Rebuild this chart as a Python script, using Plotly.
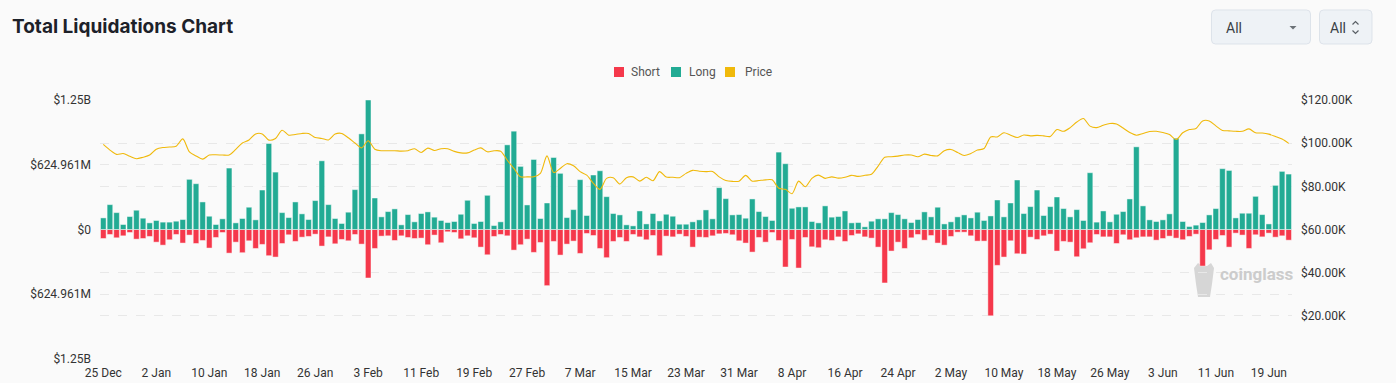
import plotly.graph_objects as go
import pandas as pd

dates = pd.date_range("2024-12-25", "2025-06-22", freq="D")

long_m = [
    112, 240, 163, 48, 125, 186, 109, 64, 87, 71, 71, 80, 96, 484, 442, 266, 128, 48, 103, 593,
    64, 106, 215, 93, 381, 830, 554, 163, 115, 266, 151, 96, 279, 663, 240, 106, 58, 167, 385, 923,
    1249.9, 304, 122, 173, 199, 45, 144, 74, 154, 170, 119, 87, 67, 77, 147, 282, 58, 77, 330, 38,
    74, 817, 949, 609, 237, 676, 106, 256, 695, 542, 115, 192, 481, 135, 526, 567, 317, 154, 141, 45,
    35, 179, 54, 154, 83, 147, 128, 51, 51, 74, 93, 189, 103, 404, 298, 141, 144, 109, 295, 173,
    125, 87, 747, 635, 205, 218, 218, 77, 64, 228, 119, 125, 179, 64, 67, 26, 80, 103, 103, 163,
    144, 103, 67, 96, 170, 122, 215, 54, 74, 122, 141, 112, 167, 87, 131, 285, 122, 256, 478, 154,
    221, 381, 135, 221, 314, 202, 122, 192, 87, 548, 71, 179, 74, 147, 173, 295, 798, 228, 93, 77,
    93, 151, 881, 77, 29, 42, 67, 141, 202, 587, 570, 112, 157, 157, 320, 144, 54, 426, 561, 535,
]

short_m = [
    87, 48, 80, 61, 29, 93, 87, 67, 122, 151, 99, 48, 131, 54, 135, 106, 179, 77, 29, 228,
    122, 224, 109, 183, 144, 253, 266, 135, 51, 115, 74, 67, 45, 160, 71, 138, 96, 109, 48, 141,
    468, 183, 64, 61, 106, 61, 77, 87, 83, 147, 54, 128, 22, 29, 90, 61, 80, 170, 244, 67,
    48, 61, 199, 147, 93, 221, 125, 542, 115, 247, 141, 112, 231, 38, 58, 183, 272, 115, 77, 115,
    48, 71, 99, 58, 253, 64, 71, 45, 67, 170, 74, 77, 61, 42, 38, 51, 109, 131, 218, 77,
    122, 29, 106, 362, 96, 372, 77, 167, 176, 99, 106, 71, 115, 58, 42, 71, 83, 170, 516, 208,
    122, 183, 80, 48, 103, 58, 131, 151, 67, 26, 26, 61, 112, 112, 833, 346, 266, 109, 234, 237,
    74, 96, 61, 45, 208, 115, 122, 263, 186, 128, 48, 71, 71, 135, 51, 99, 80, 71, 71, 103,
    87, 64, 83, 99, 67, 45, 353, 196, 96, 58, 170, 35, 54, 183, 51, 71, 35, 74, 61, 103,
]

price_k = [
    99.4, 96.8, 94.8, 95.2, 93.9, 92.8, 93.5, 94.5, 97.2, 98.0, 98.2, 98.6, 102.0, 96.0, 94.1,
    92.6, 94.5, 94.6, 94.5, 94.5, 97.1, 100.1, 101.5, 104.3, 104.3, 101.4, 102.2, 106.0, 103.7, 104.0,
    104.5, 104.5, 102.6, 102.2, 101.5, 104.2, 104.5, 102.5, 100.1, 97.8, 101.1, 97.2, 96.5, 96.5, 96.5,
    96.3, 96.5, 97.4, 95.7, 97.7, 96.6, 97.4, 97.4, 96.2, 95.5, 95.5, 96.8, 97.8, 96.0, 96.5,
    96.3, 92.1, 88.3, 84.4, 84.4, 84.4, 86.0, 94.1, 86.4, 88.3, 90.5, 89.5, 86.8, 85.2, 81.4,
    78.6, 83.7, 84.0, 81.1, 84.0, 84.4, 82.4, 84.2, 82.6, 86.8, 84.3, 84.2, 84.0, 86.0, 87.4,
    87.0, 86.8, 86.9, 84.4, 82.7, 82.3, 82.4, 85.1, 82.4, 82.7, 83.0, 83.0, 79.1, 78.6, 76.6,
    82.4, 79.8, 83.7, 85.2, 83.7, 84.4, 83.8, 84.2, 85.1, 84.6, 85.1, 85.6, 89.4, 93.5, 93.7,
    94.0, 94.5, 94.5, 93.7, 94.9, 94.3, 94.1, 96.5, 97.1, 95.7, 94.3, 95.2, 96.8, 97.5, 102.9,
    102.9, 104.8, 103.7, 102.6, 103.8, 103.4, 103.6, 103.4, 103.1, 106.3, 105.5, 107.2, 109.8, 111.4, 107.9,
    107.2, 108.3, 109.1, 108.9, 107.0, 104.9, 103.7, 104.5, 105.4, 105.5, 104.9, 104.0, 101.7, 104.8, 106.3,
    106.8, 110.3, 110.3, 108.0, 105.9, 105.7, 105.5, 105.5, 106.6, 104.8, 104.7, 104.2, 103.1, 101.9, 99.9,
]

left_max = 1249.922e6
left_ticks = [-left_max, -left_max / 2, 0, left_max / 2, left_max]
left_ticktext = ["$1.25B", "$624.961M", "$0", "$624.961M", "$1.25B"]
right_ticks = [20000, 40000, 60000, 80000, 100000, 120000]
right_ticktext = ["$20.00K", "$40.00K", "$60.00K", "$80.00K", "$100.00K", "$120.00K"]
xtick_dates = pd.date_range("2024-12-25", "2025-06-22", freq="8D")
xtick_text = [d.strftime("%-d %b") for d in xtick_dates]

RED = "#F5384B"
TEAL = "#22AB94"
GOLD = "#F0B90B"

W, H = 1396, 383
L, R, T, B = 100, 1292, 100, 359


def fx(p):
    return (p - L) / (R - L)


def fy(p):
    return (B - p) / (B - T)


def rrect(x0, y0, x1, y1, r):
    rx = r / (R - L)
    ry = r / (B - T)
    X0, X1 = fx(x0), fx(x1)
    Y0, Y1 = fy(y0), fy(y1)
    return (
        f"M {X0 + rx},{Y0} L {X1 - rx},{Y0} Q {X1},{Y0} {X1},{Y0 - ry} "
        f"L {X1},{Y1 + ry} Q {X1},{Y1} {X1 - rx},{Y1} L {X0 + rx},{Y1} "
        f"Q {X0},{Y1} {X0},{Y1 + ry} L {X0},{Y0 - ry} Q {X0},{Y0} {X0 + rx},{Y0} Z"
    )


fig = go.Figure()
fig.add_trace(go.Bar(
    x=dates, y=[-v * 1e6 for v in short_m], name="Short",
    marker=dict(color=RED, line=dict(color="rgba(255,255,255,0.45)", width=1)),
    yaxis="y", showlegend=False,
))
fig.add_trace(go.Bar(
    x=dates, y=[v * 1e6 for v in long_m], name="Long",
    marker=dict(color=TEAL, line=dict(color="rgba(255,255,255,0.45)", width=1)),
    yaxis="y", showlegend=False,
))
fig.add_trace(go.Scatter(
    x=dates, y=[v * 1000 for v in price_k], name="Price", mode="lines",
    line=dict(color=GOLD, width=1.1, shape="spline", smoothing=0.8),
    yaxis="y2", showlegend=False,
))

shapes = []
annotations = []

annotations.append(dict(
    x=fx(10), y=fy(27), xref="paper", yref="paper", xanchor="left", yanchor="middle",
    text="<b>Total Liquidations Chart</b>", showarrow=False,
    font=dict(family="Inter", size=19, color="#1d2129"),
))

for sq_x, txt_x, col, label in [(614, 629, RED, "Short"), (671, 687, TEAL, "Long"), (725, 743, GOLD, "Price")]:
    shapes.append(dict(type="rect", xref="paper", yref="paper",
                       x0=fx(sq_x), x1=fx(sq_x + 10), y0=fy(77), y1=fy(67),
                       fillcolor=col, line=dict(width=0)))
    annotations.append(dict(
        x=fx(txt_x), y=fy(72), xref="paper", yref="paper", xanchor="left", yanchor="middle",
        text=label, showarrow=False, font=dict(family="Roboto", size=12, color="#555555"),
    ))

for (x0, x1) in [(1211.5, 1310.5), (1319.5, 1372)]:
    shapes.append(dict(type="path", xref="paper", yref="paper", path=rrect(x0, 10, x1, 44, 4),
                       fillcolor="#eef2f6", line=dict(color="#dde3ea", width=1)))
annotations.append(dict(x=fx(1224), y=fy(27.5), xref="paper", yref="paper", xanchor="left",
                        yanchor="middle", text="All", showarrow=False,
                        font=dict(family="Roboto", size=14, color="#3a3f45")))
annotations.append(dict(x=fx(1328), y=fy(27.5), xref="paper", yref="paper", xanchor="left",
                        yanchor="middle", text="All", showarrow=False,
                        font=dict(family="Roboto", size=14, color="#3a3f45")))
shapes.append(dict(type="path", xref="paper", yref="paper",
                   path=f"M {fx(1289.5)},{fy(26)} L {fx(1296.5)},{fy(26)} L {fx(1293)},{fy(29.5)} Z",
                   fillcolor="#6b7177", line=dict(width=0)))
shapes.append(dict(type="path", xref="paper", yref="paper",
                   path=f"M {fx(1352.5)},{fy(24.5)} L {fx(1355.5)},{fy(21.5)} L {fx(1358.5)},{fy(24.5)}",
                   line=dict(color="#5a6066", width=1.2)))
shapes.append(dict(type="path", xref="paper", yref="paper",
                   path=f"M {fx(1352.5)},{fy(30.5)} L {fx(1355.5)},{fy(33.5)} L {fx(1358.5)},{fy(30.5)}",
                   line=dict(color="#5a6066", width=1.2)))

# watermark logo
shapes.append(dict(type="path", xref="paper", yref="paper",
                   path=(f"M {fx(1194)},{fy(268)} L {fx(1198)},{fy(263)} L {fx(1202)},{fy(266)} "
                         f"L {fx(1207)},{fy(266)} L {fx(1211)},{fy(263)} L {fx(1214)},{fy(268)} "
                         f"L {fx(1212)},{fy(284)} L {fx(1210)},{fy(297)} L {fx(1198)},{fy(297)} "
                         f"L {fx(1196)},{fy(284)} Z"),
                   fillcolor="#d6d6d6", line=dict(width=0), layer="below"))
annotations.append(dict(x=fx(1218), y=fy(273.5), xref="paper", yref="paper", xanchor="left",
                        yanchor="middle", text="<b>coinglass</b>", showarrow=False,
                        font=dict(family="Roboto", size=17, color="#cccccc")))

fig.update_layout(
    width=W, height=H,
    margin=dict(l=L, r=W - R, t=T, b=H - B, pad=0, autoexpand=False),
    paper_bgcolor="#fafafa", plot_bgcolor="#fafafa",
    barmode="relative", bargap=0.15,
    showlegend=False,
    shapes=shapes, annotations=annotations,
    font=dict(family="Roboto", size=12, color="#333333"),
    xaxis=dict(
        type="date",
        range=["2024-12-24 12:00", "2025-06-22 12:00"],
        tickvals=list(xtick_dates), ticktext=xtick_text,
        showgrid=False, zeroline=False, showline=False, ticks="",
        tickfont=dict(family="Roboto", size=12, color="#333333"),
        automargin=False, ticklabelstandoff=5,
    ),
    yaxis=dict(
        range=[-left_max, left_max],
        tickvals=left_ticks, ticktext=left_ticktext,
        showgrid=True, gridcolor="#e8e8e8", griddash="dash", gridwidth=1,
        zeroline=False, showline=False, ticks="",
        tickfont=dict(family="Roboto", size=12, color="#333333"),
        ticklabelstandoff=8, automargin=False,
    ),
    yaxis2=dict(
        range=[0, 120000], overlaying="y", side="right",
        tickvals=right_ticks, ticktext=right_ticktext,
        showgrid=True, gridcolor="#e8e8e8", griddash="dash", gridwidth=1,
        zeroline=False, showline=False, ticks="",
        tickfont=dict(family="Roboto", size=12, color="#333333"),
        ticklabelstandoff=8, automargin=False,
    ),
)

fig.write_html(
    "out.html",
    config={"displayModeBar": False},
    post_script="document.body.style.margin='0';document.body.style.background='#fafafa';",
)
